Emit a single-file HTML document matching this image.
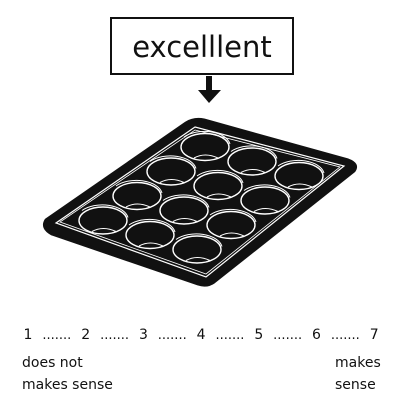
<!DOCTYPE html>
<html><head><meta charset="utf-8"><style>
html,body{margin:0;padding:0;background:#fff;width:400px;height:400px;overflow:hidden}
svg{display:block}
text{font-family:"DejaVu Sans","Liberation Sans",sans-serif;fill:#111}
</style></head><body>
<svg id="s" width="400" height="400" viewBox="0 0 400 400">
<rect x="111" y="18" width="182" height="56" fill="#fff" stroke="#111" stroke-width="2"/>
<text x="202" y="57" font-size="29" text-anchor="middle">excelllent</text>
<g>
<rect x="206" y="76" width="6" height="15" fill="#111"/>
<polygon points="198,90 221,90 209,103" fill="#111"/>
</g>
<g>
<path d="M186,123 Q194,118 204,120 L348,160 Q359,164 354,171 L214,282 Q207,287 198,284 L52,234 Q41,228 46,220 Z" fill="#111" stroke="#111" stroke-width="3" stroke-linejoin="round"/>
<polygon points="195,127 344,166 206,277 56,223" fill="none" stroke="#fff" stroke-width="1.2"/>
<polygon points="195,130 340,167 206,274 60,222" fill="none" stroke="#fff" stroke-width="0.8"/>
<g id="cups"></g>
</g>
<g id="scale"></g>
<text x="22" y="367" font-size="14">does not</text>
<text x="22" y="389" font-size="14">makes sense</text>
<text x="335" y="367" font-size="14">makes</text>
<text x="335" y="389" font-size="14">sense</text>
</svg>
<script>
const scaleLabels = ["1","2","3","4","5","6","7"];
const cupRows = [0,1,2,3];
const cupCols = [0,1,2];
const NS = "http://www.w3.org/2000/svg";
const cups = document.getElementById('cups');
cupRows.forEach(r => cupCols.forEach(c => {
  const cx = 205 - r*34 + c*47, cy = 147 + r*24.5 + c*14.5;
  const g = document.createElementNS(NS,'g');
  
  
  g.innerHTML = `<ellipse cx="${cx}" cy="${cy}" rx="24" ry="13.5" fill="none" stroke="#fff" stroke-width="1.4"/>
  <path d="M${cx-21} ${cy-10} A26 15 0 0 1 ${cx+25} ${cy-3}" fill="none" stroke="#fff" stroke-width="1"/>
  <path d="M${cx-11} ${cy+11} Q${cx} ${cy+5} ${cx+13} ${cy+11}" fill="none" stroke="#fff" stroke-width="1"/>`;
  cups.appendChild(g);
}));
const sc = document.getElementById('scale');
const x0 = 28, step = 57.7;
scaleLabels.forEach((l,i) => {
  const t = document.createElementNS(NS,'text');
  t.setAttribute('x', x0 + i*step);
  t.setAttribute('y', 339);
  t.setAttribute('font-size', '14');
  t.setAttribute('text-anchor', 'middle');
  t.textContent = l;
  
  
  sc.appendChild(t);
  if (i < scaleLabels.length - 1) {
    const d = document.createElementNS(NS,'text');
    d.setAttribute('x', x0 + i*step + step/2);
    d.setAttribute('y', 339);
    d.setAttribute('font-size', '13');
    d.setAttribute('text-anchor', 'middle');
    d.textContent = '.......';
    
    
    sc.appendChild(d);
  }
});
</script>
</body></html>
